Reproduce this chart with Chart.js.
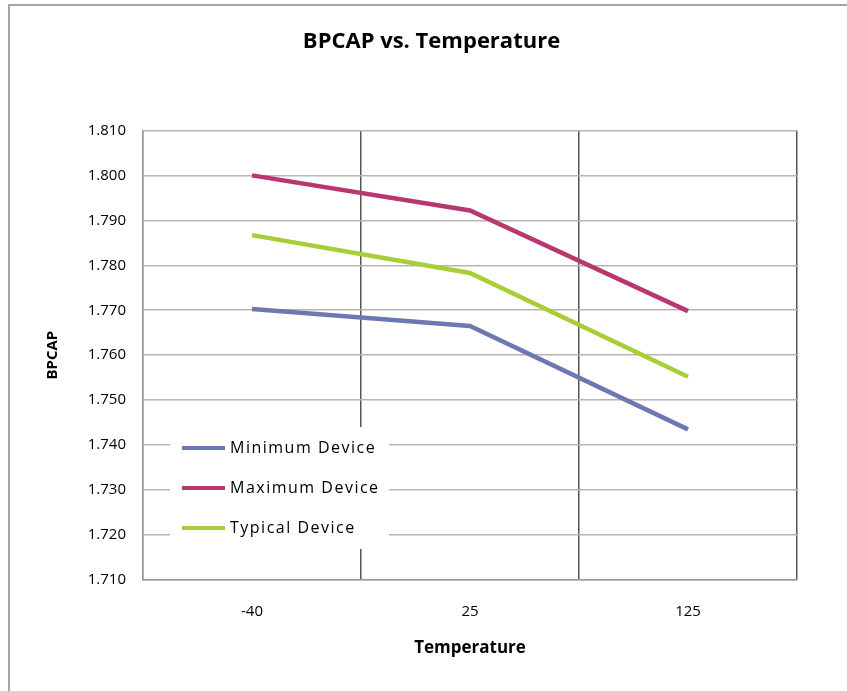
<!DOCTYPE html>
<html>
<head>
<meta charset="utf-8">
<script src="https://cdn.jsdelivr.net/npm/chart.js@4"></script>
<style>
  html, body { margin: 0; padding: 0; background: #fff; }
  #wrap { width: 847px; height: 691px; }
</style>
</head>
<body>
<div id="wrap"><canvas id="bpcapChart" width="847" height="691"></canvas></div>
<script>
const temperatures = ['-40', '25', '125'];
const minDevice = [1.7703, 1.7665, 1.7435];
const maxDevice = [1.8000, 1.7922, 1.7698];
const typDevice = [1.7867, 1.7783, 1.7552];
const seriesNames = ['Minimum Device', 'Maximum Device', 'Typical Device'];
const seriesColors = ['#6b78b2', '#b8386e', '#a8cd36'];

const FONT = "'Open Sans', 'Liberation Sans', sans-serif";

// outer frame (only left and top edges show in the original)
const framePlugin = {
    id: 'frame',
    beforeDraw(chart) {
        const c = chart.ctx;
        c.save();
        c.fillStyle = '#fff';
        c.fillRect(0, 0, chart.width, chart.height);
        c.strokeStyle = '#a6a6a6';
        c.lineWidth = 2;
        c.beginPath();
        c.moveTo(9, chart.height);
        c.lineTo(9, 5);
        c.lineTo(chart.width, 5);
        c.stroke();
        c.restore();
    }
};

// legend box sitting inside the plot area, lower left
const insideLegend = {
    id: 'insideLegend',
    beforeDatasetsDraw(chart) {
        const c = chart.ctx;
        const area = chart.chartArea;
        const x0 = area.left + 27, y0 = area.bottom - 153;
        c.save();
        c.fillStyle = '#fff';
        c.fillRect(x0, y0, 219, 122);
        c.font = '16px ' + FONT;
        c.letterSpacing = '1.5px';
        c.textBaseline = 'middle';
        chart.data.datasets.forEach((ds, i) => {
            const y = y0 + 21 + i * 40;
            c.strokeStyle = ds.borderColor;
            c.lineWidth = 4;
            c.beginPath();
            c.moveTo(x0 + 12, y);
            c.lineTo(x0 + 55, y);
            c.stroke();
            c.fillStyle = '#000';
            c.fillText(ds.label, x0 + 60, y);
        });
        c.restore();
    }
};

const ctx = document.getElementById('bpcapChart').getContext('2d');
new Chart(ctx, {
    type: 'line',
    data: {
        labels: temperatures,
        datasets: [
            { label: seriesNames[0], data: minDevice, borderColor: seriesColors[0] },
            { label: seriesNames[1], data: maxDevice, borderColor: seriesColors[1] },
            { label: seriesNames[2], data: typDevice, borderColor: seriesColors[2] }
        ].map(ds => Object.assign(ds, {
            borderWidth: 4.5,
            pointRadius: 0,
            tension: 0,
            fill: false
        }))
    },
    options: {
        responsive: false,
        animation: false,
        // left padding shifts the title centre to match the original
        layout: { padding: { left: 66, right: 50, top: 0, bottom: 0 } },
        plugins: {
            legend: { display: false },
            tooltip: { enabled: false },
            title: {
                display: true,
                text: 'BPCAP vs. Temperature',
                color: '#000',
                font: { family: FONT, size: 22, weight: 'bold' },
                padding: { top: 29, bottom: 75 }
            }
        },
        scales: {
            x: {
                offset: true,
                grid: {
                    offset: true,
                    drawTicks: false,
                    color: c => (c.index === 0 || c.index === temperatures.length) ? '#8c8c8c' : '#555555',
                    lineWidth: 1.5
                },
                border: { display: true, color: '#999999', width: 1.5 },
                ticks: { color: '#000', font: { family: FONT, size: 15 }, padding: 23 },
                title: {
                    display: true,
                    text: 'Temperature',
                    color: '#000',
                    font: { family: FONT, size: 17, weight: 'bold' },
                    padding: { top: 0, bottom: 33 }
                },
                afterFit(scale) { scale.height = 111; }
            },
            y: {
                min: 1.71,
                max: 1.81,
                ticks: {
                    stepSize: 0.01,
                    color: '#000',
                    font: { family: FONT, size: 15 },
                    padding: 17,
                    callback: v => Number(v).toFixed(3)
                },
                grid: { drawTicks: false, color: '#b5b5b5', lineWidth: 1.5 },
                border: { display: true, color: '#999999', width: 1.5 },
                title: {
                    display: true,
                    text: 'BPCAP',
                    color: '#000',
                    font: { family: FONT, size: 15, weight: 'bold' },
                    padding: { top: -22, bottom: 0 }
                },
                afterFit(scale) { scale.width = 143 - 66; }
            }
        }
    },
    plugins: [framePlugin, insideLegend]
});
</script>
</body>
</html>
